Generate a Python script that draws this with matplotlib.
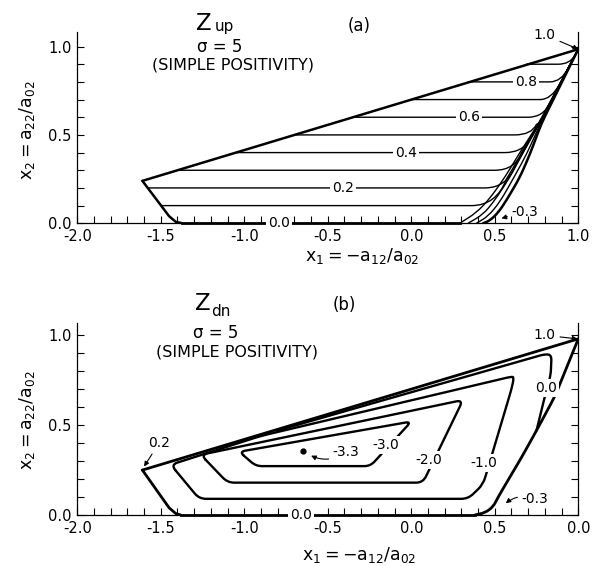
import numpy as np
import matplotlib
matplotlib.use("Agg")
import matplotlib.pyplot as plt
from matplotlib.path import Path
from matplotlib.patches import PathPatch

plt.rcParams['font.family'] = ['DejaVu Sans']
plt.rcParams['mathtext.default'] = 'regular'

# ---------- panel (a): Z_up ----------
a_levels = [0.1, 0.2, 0.3, 0.4, 0.5, 0.6, 0.7, 0.8, 0.9]
a_start_x = [-1.50, -1.58, -1.40, -1.05, -0.70, -0.35, 0.00, 0.34, 0.69]
a_bend_x = [0.36, 0.44, 0.50, 0.56, 0.62, 0.70, 0.77, 0.83, 0.88]
a_ctrl_x = [0.51, 0.57, 0.62, 0.67, 0.72, 0.79, 0.84, 0.90, 0.95]
a_join_x = [0.57, 0.62, 0.66, 0.71, 0.75, 0.83, 0.89, 0.94, 0.98]
a_join_y = [0.25, 0.32, 0.40, 0.48, 0.56, 0.68, 0.79, 0.88, 0.95]
a_merge = (0.77, 0.57)
a_vertex = (1.0, 0.985)

a_top_x = [-1.61, 1.0]
a_top_y = [0.24, 0.985]
a_left_x = [-1.61, -1.45, -1.41, -1.37]
a_left_y = [0.24, 0.04, 0.008, 0.0]
a_floor_x = [-1.37, 0.29]

# contours 0.0, -0.1, -0.2 rising from the floor, and -0.3 (right edge)
a_low_x = [
    [0.29, 0.39, 0.47, 0.56, 0.65, 0.765, 1.0],
    [0.34, 0.43, 0.50, 0.59, 0.67, 0.770, 1.0],
    [0.39, 0.46, 0.53, 0.615, 0.69, 0.775, 1.0],
]
a_low_y = [
    [0.0, 0.06, 0.14, 0.26, 0.40, 0.57, 0.985],
    [0.0, 0.05, 0.13, 0.26, 0.40, 0.57, 0.985],
    [0.0, 0.04, 0.12, 0.26, 0.39, 0.568, 0.985],
]
a_edge_x = [0.43, 0.47, 0.52, 0.57, 0.65, 0.71, 0.78, 1.0]
a_edge_y = [0.0, 0.015, 0.06, 0.13, 0.26, 0.39, 0.566, 0.985]

a_lab_text = ['0.0', '0.2', '0.4', '0.6', '0.8']
a_lab_x = [-0.79, -0.41, -0.03, 0.345, 0.685]
a_lab_y = [0.0, 0.2, 0.4, 0.6, 0.8]

# ---------- panel (b): Z_dn ----------
b_top_x = [-1.61, 1.0]
b_top_y = [0.25, 0.98]
b_left_x = [-1.61, -1.45, -1.41, -1.38]
b_left_y = [0.25, 0.04, 0.008, 0.0]
b_floor_x = [-1.38, 0.38]
b_right_x = [0.38, 0.44, 0.49, 0.52, 0.66, 0.75, 0.86, 1.0]
b_right_y = [0.0, 0.012, 0.045, 0.10, 0.32, 0.47, 0.66, 0.98]

b_zero_x = [0.75, 0.80, 0.835, 0.84, 0.80, -0.20, -0.80]
b_zero_y = [0.47, 0.66, 0.78, 0.89, 0.895, 0.63, 0.47]
b_m1_x = [-1.44, -0.90, 0.60, 0.615, 0.60, 0.43, 0.34, -1.27]
b_m1_y = [0.28, 0.44, 0.77, 0.765, 0.70, 0.17, 0.09, 0.09]
b_m2_x = [-1.26, 0.31, 0.07, -1.10]
b_m2_y = [0.335, 0.64, 0.18, 0.18]
b_m3_x = [-1.03, 0.0, -0.245, -0.93]
b_m3_y = [0.352, 0.52, 0.272, 0.272]
b_min_x, b_min_y = -0.65, 0.356

b_lab_text = ['0.0', '0.0', '-1.0', '-2.0', '-3.0']
b_lab_x = [-0.66, 0.806, 0.434, 0.104, -0.15]
b_lab_y = [0.0, 0.705, 0.29, 0.306, 0.39]

xt_a = ['-2.0', '-1.5', '-1.0', '-0.5', '0.0', '0.5', '1.0']
xt_b = ['-2.0', '-1.5', '-1.0', '-0.5', '0.0', '0.5', '0.0']


def rounded_path(xs, ys, r, closed):
    pts = np.column_stack([xs, ys]).astype(float)
    n = len(pts)
    verts, codes = [], []
    if not closed:
        verts.append(pts[0]); codes.append(Path.MOVETO)
        idx = range(1, n - 1)
    else:
        idx = range(n)
    for i in idx:
        p = pts[i]
        da = pts[i - 1] - p
        db = pts[(i + 1) % n] - p
        ra = min(r, 0.45 * np.hypot(*da))
        rb = min(r, 0.45 * np.hypot(*db))
        pa = p + da / np.hypot(*da) * ra
        pb = p + db / np.hypot(*db) * rb
        verts += [pa, p, pb]
        codes += [Path.MOVETO if (closed and i == 0) else Path.LINETO,
                  Path.CURVE3, Path.CURVE3]
    verts.append(verts[0] if closed else pts[-1])
    codes.append(Path.LINETO)
    return Path(verts, codes)


def draw(ax, path, lw):
    ax.add_patch(PathPatch(path, fill=False, lw=lw, ec='black',
                           capstyle='round', joinstyle='round'))


def style(ax, ytop, xlabels):
    ax.set_xlim(-2.0, 1.0)
    ax.set_ylim(0, ytop)
    ax.spines['top'].set_visible(False)
    for s in ['left', 'right', 'bottom']:
        ax.spines[s].set_linewidth(0.9)
    ax.set_xticks(np.arange(-2.0, 1.01, 0.5))
    ax.set_xticklabels(xlabels)
    ax.set_xticks(np.arange(-2.0, 1.01, 0.1), minor=True)
    ax.set_yticks([0.0, 0.5, 1.0])
    ax.set_yticklabels(['0.0', '0.5', '1.0'])
    ax.set_yticks(np.arange(0, 1.01, 0.1), minor=True)
    ax.tick_params(which='both', direction='in', right=True, top=False,
                   length=5, width=0.8, labelsize=10.5, pad=4)


def label(ax, s, x, y, size=10):
    ax.text(x, y, s, fontsize=size, ha='center', va='center', zorder=5,
            bbox=dict(boxstyle='square,pad=0.15', fc='white', ec='none'))


def arrow(ax, s, xy, xytext, rad=0.0, size=10):
    ax.annotate(s, xy=xy, xytext=xytext, fontsize=size, ha='center', va='center',
                arrowprops=dict(arrowstyle='-|>', lw=0.8, color='black',
                                mutation_scale=7, shrinkA=1, shrinkB=0,
                                connectionstyle='arc3,rad=%s' % rad))


fig = plt.figure(figsize=(5.99, 5.66), dpi=100)
axa = fig.add_axes([0.129, 0.6055, 0.8364, 0.3385])
axb = fig.add_axes([0.129, 0.0901, 0.8364, 0.3398])
style(axa, 1.084, xt_a)
style(axb, 1.07, xt_b)

# ---- panel (a)
axa.plot(a_top_x, a_top_y, color='black', lw=1.8, solid_capstyle='round')
axa.plot(a_left_x, a_left_y, color='black', lw=1.8, solid_capstyle='round')
axa.plot(a_floor_x, [0, 0], color='black', lw=2.0, clip_on=False)
for c, x0, xb, xk, xj, yj in zip(a_levels, a_start_x, a_bend_x, a_ctrl_x,
                                 a_join_x, a_join_y):
    verts = [(x0, c), (xb, c), (xk, c), (xj, yj)]
    codes = [Path.MOVETO, Path.LINETO, Path.CURVE3, Path.CURVE3]
    if yj < a_merge[1]:
        verts.append(a_merge); codes.append(Path.LINETO)
    verts.append(a_vertex); codes.append(Path.LINETO)
    draw(axa, Path(verts, codes), 1.0)
for xs, ys in zip(a_low_x, a_low_y):
    draw(axa, rounded_path(xs, ys, 0.06, False), 1.0)
draw(axa, rounded_path(a_edge_x, a_edge_y, 0.05, False), 1.8)
for s, x, y in zip(a_lab_text, a_lab_x, a_lab_y):
    label(axa, s, x, y)
arrow(axa, '1.0', xy=a_vertex, xytext=(0.80, 1.066))
arrow(axa, '-0.3', xy=(0.54, 0.028), xytext=(0.68, 0.066))

# ---- panel (b)
axb.plot(b_top_x, b_top_y, color='black', lw=2.0, solid_capstyle='round')
axb.plot(b_left_x, b_left_y, color='black', lw=2.0, solid_capstyle='round')
axb.plot(b_floor_x, [0, 0], color='black', lw=2.0, clip_on=False)
draw(axb, rounded_path(b_right_x, b_right_y, 0.05, False), 2.0)
draw(axb, rounded_path(b_zero_x, b_zero_y, 0.03, False), 1.7)
draw(axb, rounded_path(b_m1_x, b_m1_y, 0.04, True), 1.7)
draw(axb, rounded_path(b_m2_x, b_m2_y, 0.04, True), 1.7)
draw(axb, rounded_path(b_m3_x, b_m3_y, 0.035, True), 1.7)
axb.plot([b_min_x], [b_min_y], 'o', color='black', ms=3.5)
for s, x, y in zip(b_lab_text, b_lab_x, b_lab_y):
    label(axb, s, x, y)
arrow(axb, '-3.3', xy=(-0.60, 0.33), xytext=(-0.39, 0.352), rad=-0.3)
arrow(axb, '0.2', xy=(-1.60, 0.27), xytext=(-1.51, 0.40))
arrow(axb, '1.0', xy=(0.995, 0.98), xytext=(0.80, 1.0))
arrow(axb, '-0.3', xy=(0.566, 0.065), xytext=(0.74, 0.089), rad=0.3)


def ftext(x, y, s, **kw):
    fig.text(x / 599, 1 - y / 566, s, ha='center', va='center', **kw)


ylab = r'$x_2 = a_{22}/a_{02}$'
xlab = r'$x_1 = {-}a_{12}/a_{02}$'

ftext(204, 23, 'Z', fontsize=16.5)
ftext(224, 26, 'up', fontsize=11)
ftext(220, 47.5, '\u03c3 = 5', fontsize=12)
ftext(232.5, 65.5, '(SIMPLE POSITIVITY)', fontsize=11.5)
ftext(359.6, 25.8, '(a)', fontsize=12)
ftext(27.5, 130, ylab, fontsize=12.5, rotation=90)
ftext(362.6, 255.5, xlab, fontsize=12.5)

ftext(203, 303, 'Z', fontsize=16.5)
ftext(221, 312, 'dn', fontsize=11)
ftext(216, 332.5, '\u03c3 = 5', fontsize=12)
ftext(237, 351.7, '(SIMPLE POSITIVITY)', fontsize=11.5)
ftext(344, 305, '(b)', fontsize=12)
ftext(27.5, 420, ylab, fontsize=12.5, rotation=90)
ftext(359, 555, xlab, fontsize=12.5)

fig.savefig('out.png', dpi=100)
